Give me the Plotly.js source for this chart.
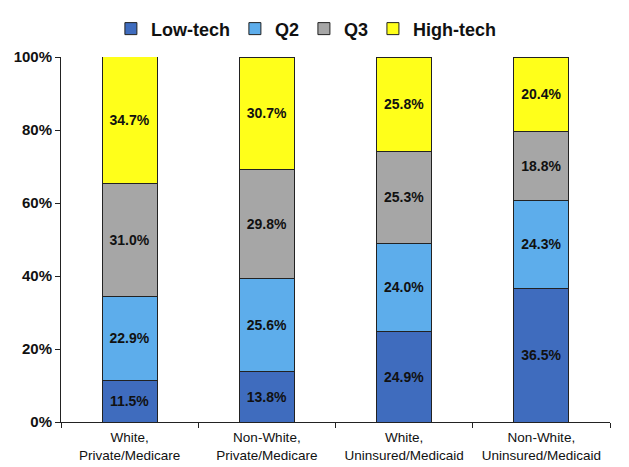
<!DOCTYPE html>
<html>
<head>
<meta charset="utf-8">
<script src="https://cdn.plot.ly/plotly-3.0.1.min.js"></script>
<style>html,body{margin:0;padding:0;background:#fff;}#chart{width:629px;height:467px;}</style>
</head>
<body>
<div id="chart"></div>
<script>
const categories = ["White,<br>Private/Medicare", "Non-White,<br>Private/Medicare", "White,<br>Uninsured/Medicaid", "Non-White,<br>Uninsured/Medicaid"];
const lowTech = [11.5, 13.8, 24.9, 36.5];
const q2 = [22.9, 25.6, 24.0, 24.3];
const q3 = [31.0, 29.8, 25.3, 18.8];
const highTech = [34.7, 30.7, 25.8, 20.4];
const seriesNames = ["Low-tech", "Q2", "Q3", "High-tech"];
const seriesColors = ["#3F6CBE", "#5DADEB", "#A6A6A6", "#FFFF1A"];
const seriesValues = [lowTech, q2, q3, highTech];

const FONT = "Liberation Sans, Arial, sans-serif";

const traces = seriesValues.map((vals, i) => ({
  type: "bar",
  name: seriesNames[i],
  x: categories,
  y: vals,
  text: vals.map(v => v.toFixed(1) + "%"),
  textposition: "inside",
  insidetextanchor: "middle",
  textangle: 0,
  constraintext: "none",
  textfont: {family: FONT, size: 14, color: "#111111", weight: "bold"},
  marker: {color: seriesColors[i], line: {color: "#222222", width: 1}},
  hoverinfo: "none"
}));

const layout = {
  width: 629, height: 467,
  margin: {l: 61, r: 19, t: 56, b: 45},
  barmode: "stack",
  bargap: 0.6,
  paper_bgcolor: "#ffffff",
  plot_bgcolor: "#ffffff",
  showlegend: true,
  legend: {
    orientation: "h", x: 0.447, xanchor: "center", y: 1.074, yanchor: "middle",
    font: {family: FONT, size: 18, color: "#111111", weight: "bold"},
    itemwidth: 30, traceorder: "normal", tracegroupgap: 0
  },
  xaxis: {
    showline: true, linecolor: "#222222", linewidth: 1,
    ticks: "outside", ticklen: 5, tickcolor: "#222222", tickson: "boundaries",
    ticklabelstandoff: 3,
    tickfont: {family: FONT, size: 13.5, color: "#111111"},
    showgrid: false, zeroline: false
  },
  yaxis: {
    range: [0, 100], dtick: 20, ticksuffix: "%",
    showline: true, linecolor: "#222222", linewidth: 1,
    ticks: "outside", ticklen: 5, tickcolor: "#222222",
    tickfont: {family: FONT, size: 15, color: "#111111", weight: "bold"},
    showgrid: false, zeroline: false
  },
  font: {family: FONT}
};

Plotly.newPlot("chart", traces, layout, {staticPlot: true, displayModeBar: false});
</script>
</body>
</html>
